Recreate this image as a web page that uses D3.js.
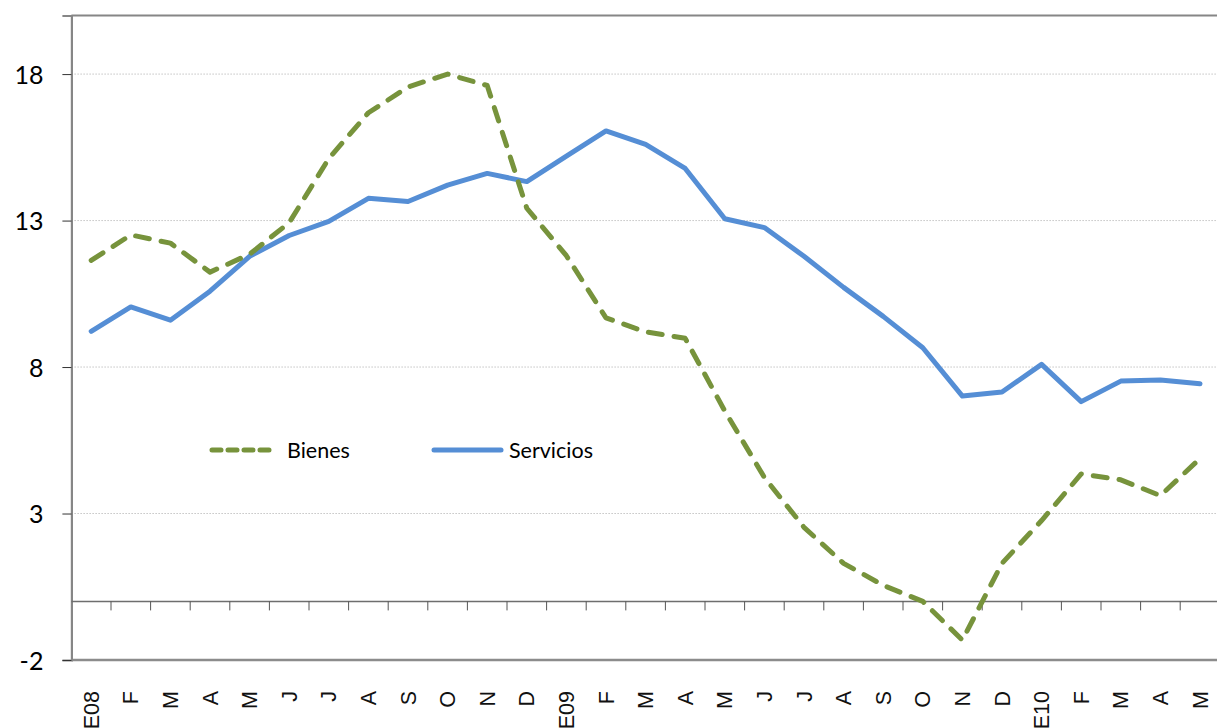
<!DOCTYPE html>
<html>
<head>
<meta charset="utf-8">
<script src="https://cdn.jsdelivr.net/npm/d3@7"></script>
<style>
  html, body { margin: 0; padding: 0; background: #fff; }
  svg { display: block; }
</style>
</head>
<body>
<svg id="chart" width="1217" height="728"></svg>
<script>
const categories = ["E08","F","M","A","M","J","J","A","S","O","N","D",
                    "E09","F","M","A","M","J","J","A","S","O","N","D",
                    "E10","F","M","A","M"];
const bienes = [11.64, 12.51, 12.23, 11.24, 11.85, 12.93, 15.12, 16.68, 17.56, 18.0, 17.61, 13.42,
                11.8, 9.68, 9.2, 8.98, 6.5, 4.23, 2.53, 1.3, 0.55, 0.0, -1.32, 1.3,
                2.76, 4.35, 4.15, 3.61, 4.88];
const servicios = [9.22, 10.05, 9.6, 10.59, 11.78, 12.49, 12.97, 13.76, 13.65, 14.21, 14.61, 14.33,
                   15.2, 16.06, 15.6, 14.78, 13.06, 12.76, 11.78, 10.72, 9.73, 8.66, 7.01, 7.15,
                   8.09, 6.82, 7.52, 7.56, 7.43];
const yTicks = [-2, 3, 8, 13, 18];
const seriesNames = ["Bienes", "Servicios"];
const seriesColors = ["#77933C", "#558ED5"];

(function () {
const svg = d3.select("#chart");
const pLeft = 71.4, pTop = 15.5, pBottom = 660;
const bandW = 39.6;
const pRight = pLeft + categories.length * bandW;

const x = d3.scaleBand().domain(d3.range(categories.length)).range([pLeft, pRight]).paddingInner(0).paddingOuter(0);
const y = d3.scaleLinear().domain([-2, 20]).range([pBottom, pTop]);
const cx = i => x(i) + x.bandwidth() / 2;

// gridlines
svg.append("g").selectAll("line").data(yTicks.filter(d => d !== -2)).join("line")
  .attr("x1", pLeft).attr("x2", 1217)
  .attr("y1", d => y(d)).attr("y2", d => y(d))
  .attr("stroke", "#c4c4c4").attr("stroke-width", 1).attr("stroke-dasharray", "1.5,1.5");

// top border
svg.append("line").attr("x1", pLeft).attr("x2", 1217).attr("y1", pTop).attr("y2", pTop)
  .attr("stroke", "#868686").attr("stroke-width", 2);
// bottom border
svg.append("line").attr("x1", pLeft).attr("x2", 1217).attr("y1", pBottom).attr("y2", pBottom)
  .attr("stroke", "#8c8c8c").attr("stroke-width", 2.5);

// y axis
const yAxis = d3.axisLeft(y).tickValues(yTicks).tickSize(9).tickPadding(0).tickFormat(d => String(d));
const gy = svg.append("g").attr("transform", `translate(${pLeft},0)`).call(yAxis);
gy.select(".domain").attr("stroke", "#868686").attr("stroke-width", 2.2);
gy.selectAll(".tick line").attr("stroke", "#333").attr("stroke-width", 1);
gy.selectAll(".tick text").attr("x", -28).attr("dy", "0.36em")
  .style("font-family", "Lato, 'Liberation Sans', sans-serif").style("font-size", "25px").attr("fill", "#000");

// zero axis with category tick marks
const z = y(0);
svg.append("line").attr("x1", pLeft).attr("x2", 1217).attr("y1", z).attr("y2", z)
  .attr("stroke", "#6e6e6e").attr("stroke-width", 1.5);
svg.append("g").selectAll("line").data(d3.range(1, categories.length)).join("line")
  .attr("x1", i => x(i)).attr("x2", i => x(i))
  .attr("y1", z).attr("y2", z + 9)
  .attr("stroke", "#555").attr("stroke-width", 1);

// category labels (rotated)
svg.append("g").selectAll("text").data(categories).join("text")
  .attr("transform", (d, i) => `translate(${cx(i) + 7.5},691) rotate(-90)`)
  .attr("text-anchor", "end")
  .style("font-family", "'Liberation Sans', Arial, sans-serif").style("font-size", "21.5px")
  .attr("fill", "#111")
  .text(d => d);

// lines
const line = d3.line().x((d, i) => cx(i)).y(d => y(d));
svg.append("path").datum(servicios).attr("d", line)
  .attr("fill", "none").attr("stroke", seriesColors[1]).attr("stroke-width", 5)
  .attr("stroke-linejoin", "round").attr("stroke-linecap", "round");
svg.append("path").datum(bienes).attr("d", line)
  .attr("fill", "none").attr("stroke", seriesColors[0]).attr("stroke-width", 5)
  .attr("stroke-linejoin", "round").attr("stroke-linecap", "round")
  .attr("stroke-dasharray", "14,12");

// legend
const legend = svg.append("g");
const legItems = [
  {name: seriesNames[0], color: seriesColors[0], x1: 212, x2: 271, tx: 287, dash: "9,7"},
  {name: seriesNames[1], color: seriesColors[1], x1: 434, x2: 501, tx: 509, dash: null}
];
legItems.forEach(it => {
  const l = legend.append("line").attr("x1", it.x1).attr("x2", it.x2).attr("y1", 450).attr("y2", 450)
    .attr("stroke", it.color).attr("stroke-width", 5).attr("stroke-linecap", "round");
  if (it.dash) l.attr("stroke-dasharray", it.dash);
  legend.append("text").attr("x", it.tx).attr("y", 457.5)
    .style("font-family", "Lato, 'Liberation Sans', sans-serif").style("font-size", "21.5px")
    .attr("fill", "#000").text(it.name);
});
})();
</script>
</body>
</html>
